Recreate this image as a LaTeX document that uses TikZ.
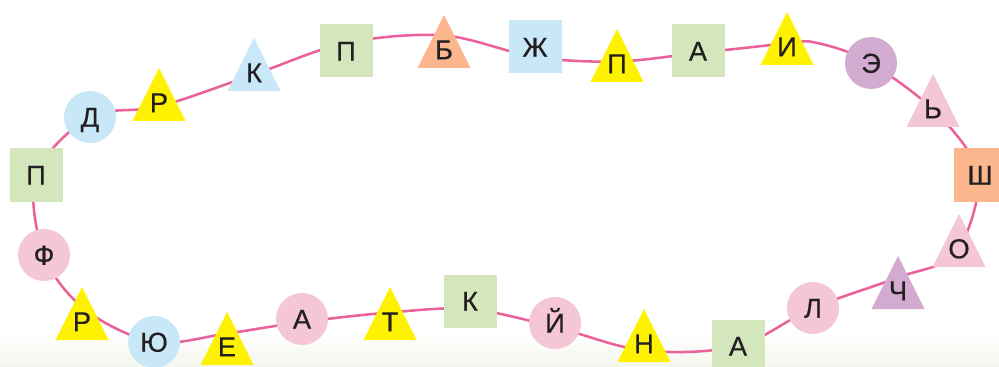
\documentclass[tikz,border=0pt]{standalone}
\usepackage{fontspec}
\setmainfont[FakeBold=0.4]{Liberation Sans}
\usetikzlibrary{calc}
\definecolor{cgreen}{HTML}{D4E7BC}
\definecolor{cblue}{HTML}{C8E8F8}
\definecolor{cyellow}{HTML}{FFF200}
\definecolor{corange}{HTML}{FBB68E}
\definecolor{cpink}{HTML}{F5C6D6}
\definecolor{cpurple}{HTML}{D3ABD1}
\definecolor{cline}{HTML}{EA619C}
\definecolor{ink}{HTML}{231F20}
\definecolor{bgbot}{HTML}{F4F6EE}
\pgfdeclarelayer{bg}
\pgfsetlayers{bg,main}
\tikzset{
  letter/.style={text=ink, font=\fontsize{20.5}{22}\selectfont, inner sep=0pt, text height=14.6pt, text depth=0pt},
  sq/.style={letter, minimum size=39.75pt, fill=#1},
  circ/.style={letter, circle, minimum size=39pt, fill=#1},
  loopline/.style={draw=cline, line width=1.9pt},
}
\newcommand\tri[5]{%
  \fill[#4] (#2-26.5,#3+53) -- (#2,#3) -- (#2+26.5,#3+53) -- cycle;
  \node[letter] (#1) at (#2,#3+34.5) {#5};
}
\begin{document}
\begin{tikzpicture}[x=0.75pt,y=-0.75pt]
\useasboundingbox (0,0) rectangle (999,367);
\clip (0,0) rectangle (999,367);
\begin{pgfonlayer}{bg}
\fill[white] (0,0) rectangle (999,367);
\shade[top color=white, bottom color=bgbot] (0,332) rectangle (999,367);
\end{pgfonlayer}

% shapes and letters
\node[sq=cgreen] (p1) at (36,175) {П};
\node[circ=cblue] (d) at (90,117) {Д};
\tri{r1}{159}{68}{cyellow}{Р}
\tri{k1}{254}{38}{cblue}{К}
\node[sq=cgreen] (p2) at (346,51) {П};
\tri{b}{444}{15}{corange}{Б}
\node[sq=cblue] (zh) at (535,47) {Ж};
\tri{p3}{617}{29}{cyellow}{П}
\node[sq=cgreen] (a1) at (698,51) {А};
\tri{i}{787}{12}{cyellow}{И}
\node[circ=cpurple] (e1) at (871,63) {Э};
\tri{sg}{933}{74}{cpink}{Ь}
\node[sq=corange] (sh) at (980,175) {Ш};
\tri{o}{959}{214}{cpink}{О}
\tri{ch}{898}{256}{cpurple}{Ч}
\node[circ=cpink] (l) at (813,308) {Л};
\node[sq=cgreen] (a2) at (738,346) {А};
\tri{n}{644}{309}{cyellow}{Н}
\node[circ=cpink] (y) at (555,323) {Й};
\node[sq=cgreen] (k2) at (470,301) {К};
\tri{t}{390}{287}{cyellow}{Т}
\node[circ=cpink] (a3) at (302,319) {А};
\tri{e2}{227}{312}{cyellow}{Е}
\node[circ=cblue] (yu) at (154,342) {Ю};
\tri{r2}{82}{287}{cyellow}{Р}
\node[circ=cpink] (f) at (44,255) {Ф};

% waypoints of the loop
\coordinate (w1) at (p1.center);
\coordinate (w2) at (d.center);
\coordinate (w3) at ($(r1)+(0,4)$);
\coordinate (w4) at ($(k1)+(0,2)$);
\coordinate (w5) at ($(p2)+(0,-8)$);
\coordinate (w6) at ($(b)+(0,-14)$);
\coordinate (w7) at ($(zh)+(0,10)$);
\coordinate (w8) at ($(p3)+(0,-2)$);
\coordinate (w9) at ($(a1)+(0,2)$);
\coordinate (w10) at ($(i)+(0,-3)$);
\coordinate (w10b) at ($(i)+(28,-4)$);
\coordinate (w11) at ($(e1)+(-4,-2)$);
\coordinate (w12) at ($(sg)+(3,4)$);
\coordinate (w13) at ($(sh)+(-2,0)$);
\coordinate (w14) at ($(o)+(-3,4)$);
\coordinate (w15) at ($(ch)+(0,-13)$);
\coordinate (w16) at (l.center);
\coordinate (w17) at (a2.center);
\coordinate (w18) at ($(n)+(0,7)$);
\coordinate (w19) at ($(y)+(0,4)$);
\coordinate (w20) at ($(k2)+(0,8)$);
\coordinate (w21) at ($(t)+(0,-9)$);
\coordinate (w22) at ($(a3)+(0,3)$);
\coordinate (w23) at ($(e2)+(0,-13)$);
\coordinate (w24) at (yu.center);
\coordinate (w25) at ($(r2)+(3,-12)$);
\coordinate (w26) at (f.center);

\begin{pgfonlayer}{bg}
\draw[loopline] plot[smooth cycle, tension=0.55] coordinates {
  (w1) (w2) (w3) (w4) (w5) (w6) (w7) (w8) (w9) (w10) (w10b) (w11) (w12) (w13)
  (w14) (w15) (w16) (w17) (w18) (w19) (w20) (w21) (w22) (w23) (w24) (w25) (w26)};
\end{pgfonlayer}
\end{tikzpicture}
\end{document}
